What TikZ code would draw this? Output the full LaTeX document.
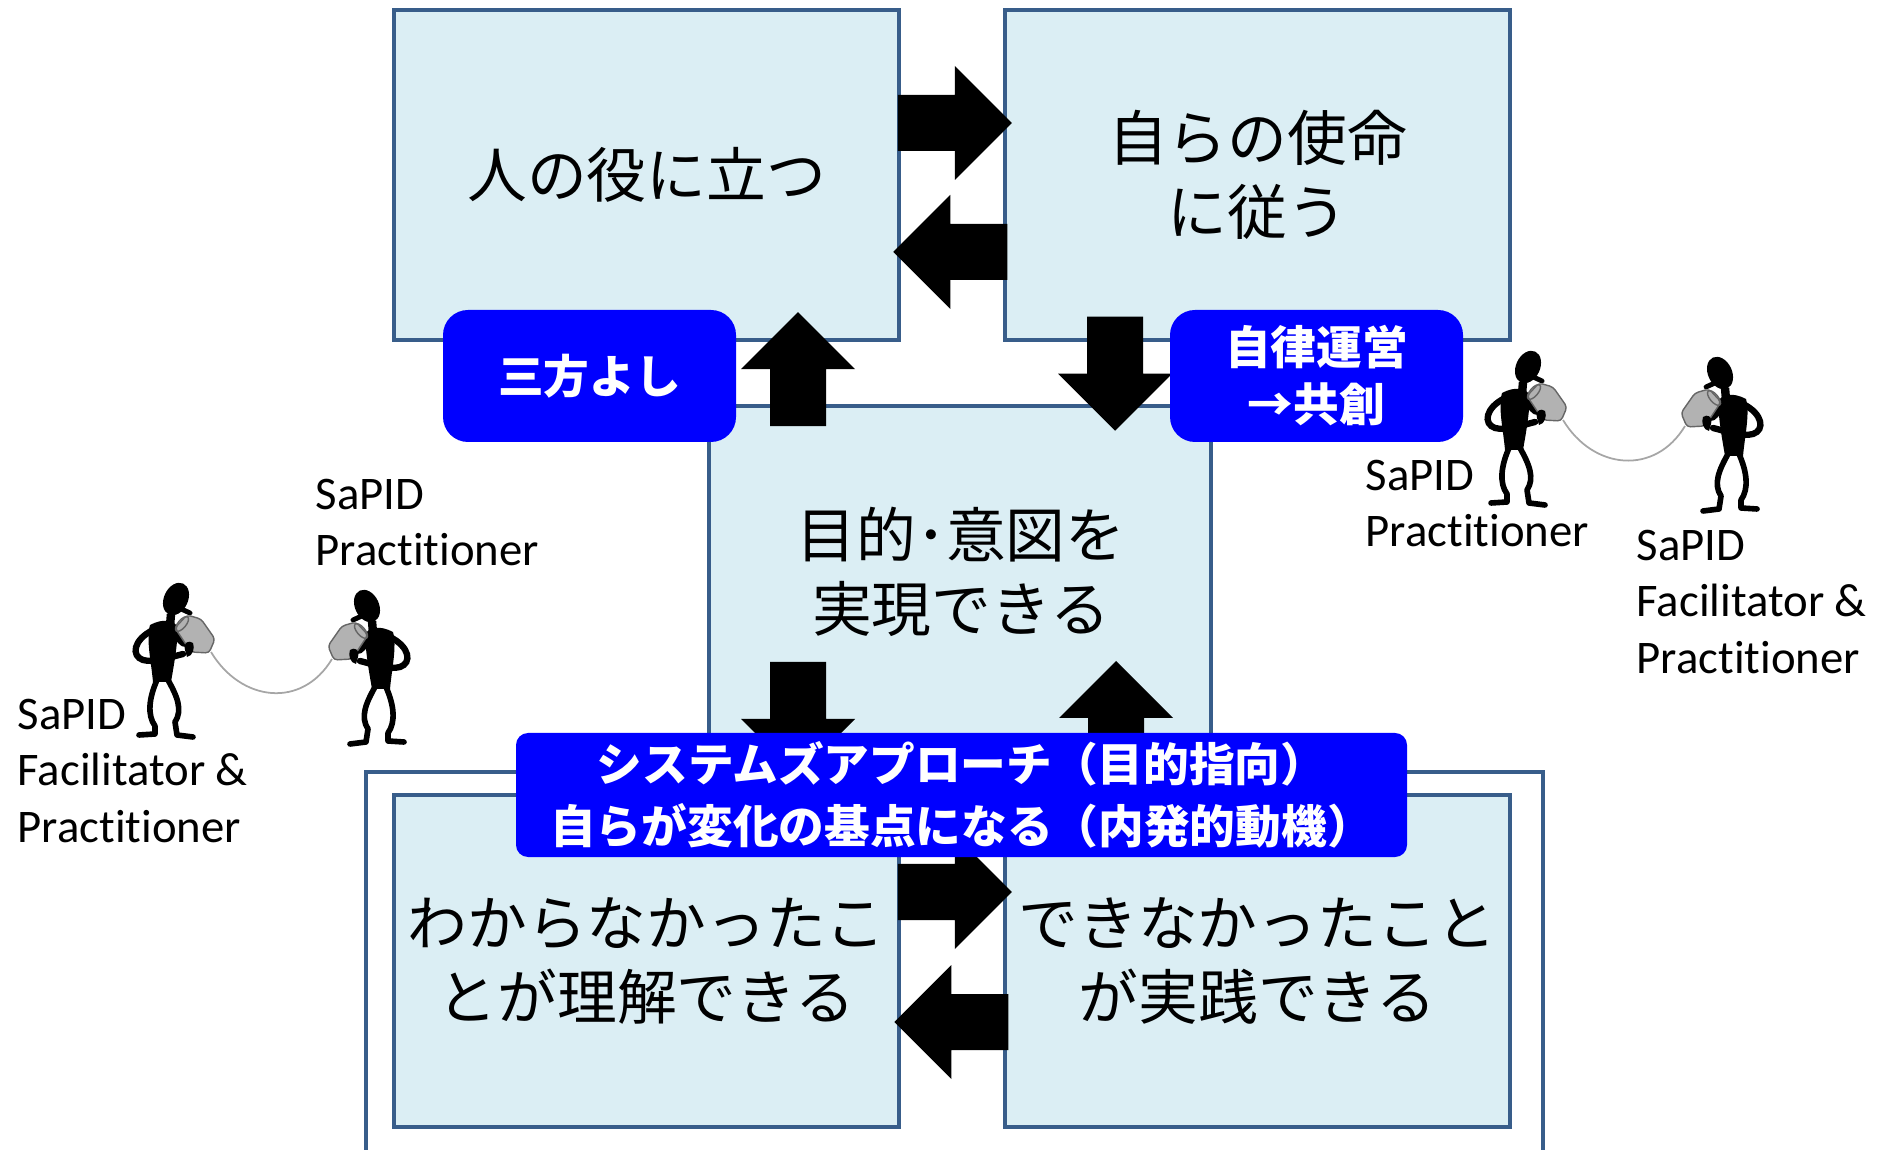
\documentclass[tikz,border=0pt]{standalone}
\usepackage{fontspec}
\setmainfont{Carlito}[RawFeature={-liga;-clig;-calt;-dlig}]
\newfontfamily\jp{Noto Sans CJK JP}
\usetikzlibrary{positioning, calc}
\definecolor{boxfill}{HTML}{DBEEF4}
\definecolor{boxline}{HTML}{385D8A}
\definecolor{tagblue}{HTML}{0000FF}

\tikzset{
    % fat block arrow, 1.14 long, pointing along +x
    pics/fatarrow/.style={code={
        \fill (0,-0.28) -- (0.57,-0.28) -- (0.57,-0.57) -- (1.14,0)
              -- (0.57,0.57) -- (0.57,0.28) -- (0,0.28) -- cycle;
    }},
    % little person talking into a tin can, facing right
    pics/talker/.style={code={
        \fill[rotate around={-25:(0.11,1.41)}] (0.11,1.41) ellipse (0.12 and 0.17);
        \draw[line width=1.4pt, line cap=round] (0.14,1.32) -- (0.25,1.27);
        \draw[line width=2.4pt] (0.06,1.26) -- (0.05,1.14);
        \fill (-0.15,1.15) .. controls (-0.02,1.22) and (0.10,1.20) .. (0.13,1.12)
              .. controls (0.12,0.90) and (0.08,0.70) .. (0.06,0.58)
              -- (-0.12,0.58) .. controls (-0.14,0.80) and (-0.19,1.00) .. cycle;
        \draw[line width=1.8pt, line cap=round] (-0.12,1.10)
              .. controls (-0.32,1.00) and (-0.34,0.84) .. (-0.22,0.80)
              .. controls (-0.10,0.77) and (0.02,0.82) .. (0.18,0.86);
        \draw[line width=1.8pt, line cap=round] (0.10,1.10)
              .. controls (0.14,1.00) and (0.16,0.96) .. (0.22,0.96);
        \draw[line width=1.6pt, line cap=round, line join=round] (-0.08,0.60)
              .. controls (-0.16,0.42) and (-0.18,0.25) .. (-0.10,0.14)
              -- (-0.10,0.06) -- (-0.26,0.05);
        \draw[line width=1.6pt, line cap=round, line join=round] (0.03,0.60)
              .. controls (0.12,0.44) and (0.18,0.30) .. (0.10,0.18)
              -- (0.12,0.05) -- (0.28,0.03);
        \filldraw[fill=gray!60, draw=black!60, line width=0.4pt, rounded corners=1pt]
              (0.10,1.12) -- (0.22,1.25) -- (0.36,1.21) -- (0.50,1.01)
              -- (0.44,0.87) -- (0.26,0.88) -- cycle;
        \draw[black!60, line width=0.4pt, rotate around={-40:(0.17,1.16)}] (0.17,1.16) ellipse (0.04 and 0.09);
        \fill (0.20,0.90) .. controls (0.18,0.98) and (0.24,1.00) .. (0.28,0.97)
              .. controls (0.30,0.92) and (0.28,0.84) .. (0.22,0.83) -- cycle;
        \coordinate (-can) at (0.46,0.88);
    }}
}

\begin{document}
\begin{tikzpicture}[
    every node/.style={inner sep=0pt},
    panel/.style={draw=boxline, line width=1pt, fill=boxfill,
                  minimum width=5.05cm, minimum height=3.30cm, align=center,
                  font=\jp\fontsize{17}{21}\selectfont},
    tag/.style={fill=tagblue, rounded corners=0.25cm, text=white, align=center,
                minimum width=2.93cm, minimum height=1.32cm,
                font=\jp\bfseries\fontsize{13}{16.2}\selectfont},
    who/.style={anchor=north west, align=left, font=\fontsize{13.3}{16.2}\selectfont},
    wire/.style={gray!70, line width=0.5pt}
]
    \useasboundingbox (0,0) rectangle (18.83,11.49);

    % Upper pair and the centre box
    \node[panel] (hito)   at (6.465, 9.74) {人の役に立つ};
    \node[panel] (shimei) at (12.575, 9.74) {自らの使命\\に従う};
    \node[panel, minimum width=5.02cm, minimum height=3.84cm] (mokuteki) at (9.60, 5.51) {};
    \node[font=\jp\fontsize{17}{21}\selectfont, align=center] (mtext) at (9.61, 5.77) {目的･意図を\\実現できる};

    % Lower frame with its two boxes
    \node[draw=boxline, line width=1pt, fill=white, minimum width=11.77cm,
          minimum height=4.28cm] (waku) at (9.545, 1.63) {};
    \node[panel, minimum height=3.32cm] (rikai)  at (6.465, 1.88) {わからなかったこ\\とが理解できる};
    \node[panel, minimum height=3.32cm] (jissen) at (12.575, 1.88) {できなかったこと\\が実践できる};

    % Block arrows between the boxes
    \pic at ($(hito.east)+(-0.03,0.52)$) {fatarrow};
    \pic[rotate=180] at ($(shimei.west)+(0.04,-0.77)$) {fatarrow};
    \pic[rotate=90]  at ($(mokuteki.north)+(-1.62,-0.22)$) {fatarrow};
    \pic[rotate=-90] at ($(shimei.south)+(-1.425,0.25)$) {fatarrow};
    \pic[rotate=-90] at ($(mokuteki.center)+(-1.62,-0.64)$) {fatarrow};
    \pic[rotate=90]  at ($(mokuteki.center)+(1.56,-1.77)$) {fatarrow};
    \pic at ($(rikai.east)+(-0.03,0.69)$) {fatarrow};
    \pic[rotate=180] at ($(jissen.west)+(0.05,-0.61)$) {fatarrow};

    % Blue tags
    \node[tag] (sanpo)   at (5.895, 7.73) {三方よし};
    \node[tag] (jiritsu) at (13.165, 7.73) {自律運営\\→共創};
    \node[tag, rounded corners=0.12cm, minimum width=8.91cm, minimum height=1.24cm,
          font=\jp\bfseries\fontsize{13}{17.6}\selectfont] (system) at (9.615, 3.54)
          {システムズアプローチ（目的指向）\\自らが変化の基点になる（内発的動機）};

    % Tin-can telephone, left pair
    \pic (fa) at (1.65, 4.09) {talker};
    \pic[xscale=-1] (fb) at (3.78, 4.02) {talker};
    \draw[wire] (fa-can) .. controls +(0.3,-0.5) and +(-0.3,-0.5) .. (fb-can);
    \node[who] (fbtext) at (3.15, 6.71) {SaPID\\Practitioner};
    \node[who] (fatext) at (0.17, 4.51) {SaPID\\Facilitator \&\\Practitioner};

    % Tin-can telephone, right pair
    \pic (fc) at (15.17, 6.41) {talker};
    \pic[xscale=-1] (fd) at (17.31, 6.35) {talker};
    \draw[wire] (fc-can) .. controls +(0.3,-0.5) and +(-0.3,-0.5) .. (fd-can);
    \node[who] (fctext) at (13.65, 6.90) {SaPID\\Practitioner};
    \node[who] (fdtext) at (16.36, 6.20) {SaPID\\Facilitator \&\\Practitioner};
\end{tikzpicture}
\end{document}
